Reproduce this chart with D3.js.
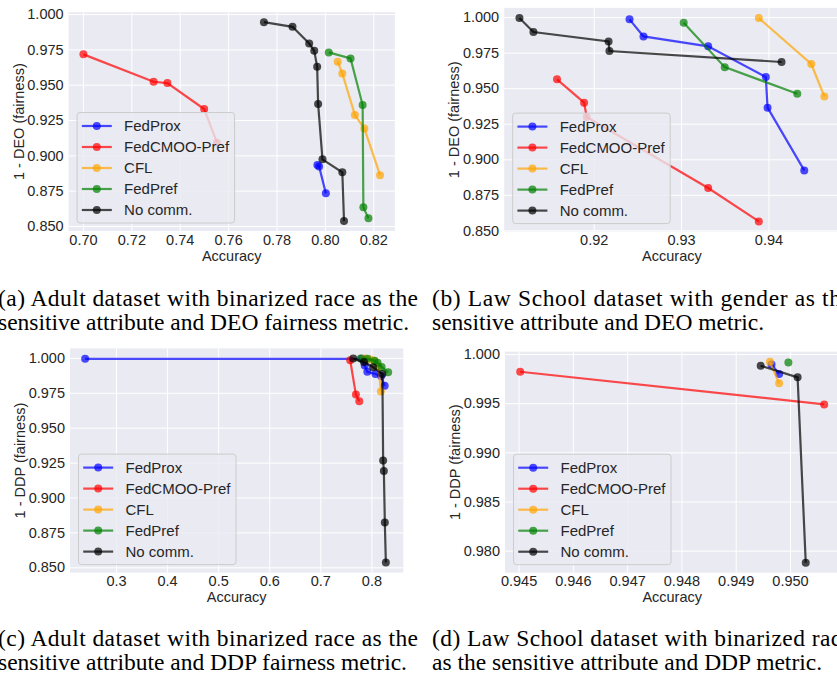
<!DOCTYPE html>
<html>
<head>
<meta charset="utf-8">
<script src="https://cdn.jsdelivr.net/npm/d3@7"></script>
<style>
  body { margin: 0; background: #fff; }
  svg { display: block; }
  .axis text { font-family: "Liberation Sans", Arial, sans-serif; font-size: 14.5px; fill: #262626; }
  .axis line { stroke: #fff; stroke-width: 1; }
  .axis .domain { display: none; }
  .axis-title { font-family: "Liberation Sans", Arial, sans-serif; font-size: 14.5px; fill: #262626; }
  .legend text { font-family: "Liberation Sans", Arial, sans-serif; font-size: 15px; fill: #262626; }
  .caption { font-family: "Liberation Serif", "Times New Roman", serif; font-size: 23.5px; fill: #000; }
</style>
</head>
<body>
<svg id="fig" width="837" height="681"></svg>
<script>
// methods, in legend / drawing order
const methods = ["FedProx", "FedCMOO-Pref", "CFL", "FedPref", "No comm."]
const methodColors = ["blue", "red", "orange", "green", "black"]

// points are [accuracy, 1 - fairness gap]
// (a) Adult, binarized race, DEO
const adultDeoFedProx = [[0.7969, 0.8932], [0.7976, 0.8922], [0.8004, 0.8731]]
const adultDeoFedCmoo = [[0.7002, 0.9715], [0.7292, 0.9521], [0.7349, 0.9512], [0.7501, 0.9328], [0.7554, 0.9090]]
const adultDeoCfl = [[0.8053, 0.9662], [0.8072, 0.9580], [0.8124, 0.9285], [0.8163, 0.9190], [0.8228, 0.8860]]
const adultDeoFedPref = [[0.8016, 0.9729], [0.8106, 0.9686], [0.8156, 0.9356], [0.8159, 0.8632], [0.8180, 0.8554]]
const adultDeoNoComm = [[0.7748, 0.9943], [0.7866, 0.9910], [0.7935, 0.9792], [0.7956, 0.9740], [0.7968, 0.9627],
  [0.7972, 0.9363], [0.7990, 0.8972], [0.8072, 0.8880], [0.8079, 0.8535]]

// (b) Law School, gender, DEO
const lawDeoFedProx = [[0.9241, 0.9984], [0.9257, 0.9864], [0.9331, 0.9794], [0.9397, 0.9578], [0.9399, 0.9363], [0.9441, 0.8922]]
const lawDeoFedCmoo = [[0.9158, 0.9562], [0.9189, 0.9398], [0.9192, 0.9297], [0.9331, 0.8798], [0.9389, 0.8563]]
const lawDeoCfl = [[0.9389, 0.9993], [0.9449, 0.9670], [0.9464, 0.9442]]
const lawDeoFedPref = [[0.9303, 0.9960], [0.9350, 0.9648], [0.9433, 0.9461]]
const lawDeoNoComm = [[0.9115, 0.9993], [0.9131, 0.9895], [0.9217, 0.9829], [0.9218, 0.9761], [0.9415, 0.9684]]

// (c) Adult, binarized race, DDP
const adultDdpFedProx = [[0.2396, 0.9993], [0.7810, 0.9993], [0.7870, 0.9945], [0.7920, 0.9900], [0.8080, 0.9885], [0.8190, 0.9870], [0.8260, 0.9800]]
const adultDdpFedCmoo = [[0.7585, 0.9983], [0.7697, 0.9737], [0.7763, 0.9689]]
const adultDdpCfl = [[0.7860, 0.9995], [0.7970, 0.9990], [0.8060, 0.9980], [0.8140, 0.9940], [0.8185, 0.9760]]
const adultDdpFedPref = [[0.7790, 0.9995], [0.7920, 0.9993], [0.8060, 0.9980], [0.8120, 0.9965], [0.8200, 0.9935], [0.8328, 0.9897]]
const adultDdpNoComm = [[0.7645, 0.9995], [0.7855, 0.9970], [0.8035, 0.9933], [0.8215, 0.9885], [0.8230, 0.9265],
  [0.8244, 0.9190], [0.8263, 0.8820], [0.8283, 0.8535]]

// (d) Law School, binarized race, DDP
const lawDdpFedProx = [[0.94966, 0.99895], [0.94980, 0.99798]]
const lawDdpFedCmoo = [[0.94503, 0.99820], [0.95063, 0.99488]]
const lawDdpCfl = [[0.94963, 0.99922], [0.94980, 0.99702]]
const lawDdpFedPref = [[0.94997, 0.99915]]
const lawDdpNoComm = [[0.94946, 0.99881], [0.95014, 0.99763], [0.95029, 0.97878]]

// tick values
const adultDeoTicksX = [0.70, 0.72, 0.74, 0.76, 0.78, 0.80, 0.82]
const lawDeoTicksX = [0.92, 0.93, 0.94]
const adultDdpTicksX = [0.3, 0.4, 0.5, 0.6, 0.7, 0.8]
const lawDdpTicksX = [0.945, 0.946, 0.947, 0.948, 0.949, 0.950]
const fairTicksY = [0.850, 0.875, 0.900, 0.925, 0.950, 0.975, 1.000]
const lawDdpTicksY = [0.980, 0.985, 0.990, 0.995, 1.000]

// captions
const captionA = ["(a) Adult dataset with binarized race as the", "sensitive attribute and DEO fairness metric."]
const captionB = ["(b) Law School dataset with gender as the", "sensitive attribute and DEO metric."]
const captionC = ["(c) Adult dataset with binarized race as the", "sensitive attribute and DDP fairness metric."]
const captionD = ["(d) Law School dataset with binarized race", "as the sensitive attribute and DDP metric."]

const panels = [
  { series: [adultDeoFedProx, adultDeoFedCmoo, adultDeoCfl, adultDeoFedPref, adultDeoNoComm],
    xTicks: adultDeoTicksX, xFmt: ".2f", yTicks: fairTicksY, yFmt: ".3f", yTitle: "1 - DEO (fairness)",
    frame: { left: 68.6, right: 394.9, top: 12.2, bottom: 231 } },
  { series: [lawDeoFedProx, lawDeoFedCmoo, lawDeoCfl, lawDeoFedPref, lawDeoNoComm],
    xTicks: lawDeoTicksX, xFmt: ".2f", yTicks: fairTicksY, yFmt: ".3f", yTitle: "1 - DEO (fairness)",
    frame: { left: 504.2, right: 839.6, top: 7.9, bottom: 231.6 } },
  { series: [adultDdpFedProx, adultDdpFedCmoo, adultDdpCfl, adultDdpFedPref, adultDdpNoComm],
    xTicks: adultDdpTicksX, xFmt: ".1f", yTicks: fairTicksY, yFmt: ".3f", yTitle: "1 - DDP (fairness)",
    frame: { left: 70, right: 403.3, top: 348.4, bottom: 572.6 } },
  { series: [lawDdpFedProx, lawDdpFedCmoo, lawDdpCfl, lawDdpFedPref, lawDdpNoComm],
    xTicks: lawDdpTicksX, xFmt: ".3f", yTicks: lawDdpTicksY, yFmt: ".3f", yTitle: "1 - DDP (fairness)",
    frame: { left: 505, right: 839.4, top: 351.7, bottom: 572.7 } }
]

const svg = d3.select("#fig")

function drawPanel(p) {
  const f = p.frame
  const all = p.series.flat()
  const xExt = d3.extent(all, d => d[0])
  const yExt = d3.extent(all, d => d[1])
  // matplotlib style 5% margins
  const xPad = (xExt[1] - xExt[0]) * 0.05
  const yPad = (yExt[1] - yExt[0]) * 0.05

  const xScale = d3.scaleLinear().domain([xExt[0] - xPad, xExt[1] + xPad]).range([f.left, f.right])
  const yScale = d3.scaleLinear().domain([yExt[0] - yPad, yExt[1] + yPad]).range([f.bottom, f.top])

  const g = svg.append("g")

  g.append("rect")
    .attr("x", f.left).attr("y", f.top)
    .attr("width", f.right - f.left).attr("height", f.bottom - f.top)
    .attr("fill", "#EAEAF2")

  g.append("g")
    .attr("class", "axis")
    .attr("transform", `translate(0,${f.bottom})`)
    .call(d3.axisBottom(xScale).tickValues(p.xTicks).tickFormat(d3.format(p.xFmt))
      .tickSize(-(f.bottom - f.top)).tickPadding(3.5))

  g.append("g")
    .attr("class", "axis")
    .attr("transform", `translate(${f.left},0)`)
    .call(d3.axisLeft(yScale).tickValues(p.yTicks).tickFormat(d3.format(p.yFmt))
      .tickSize(-(f.right - f.left)).tickPadding(5))

  g.append("text")
    .attr("class", "axis-title")
    .attr("x", (f.left + f.right) / 2)
    .attr("y", f.bottom + 29.5)
    .attr("text-anchor", "middle")
    .text("Accuracy")

  g.append("text")
    .attr("class", "axis-title")
    .attr("transform", `translate(${f.left - 45},${(f.top + f.bottom) / 2}) rotate(-90)`)
    .attr("text-anchor", "middle")
    .text(p.yTitle)

  const line = d3.line().x(d => xScale(d[0])).y(d => yScale(d[1]))

  p.series.forEach((pts, i) => {
    const sg = g.append("g")
    sg.append("path")
      .attr("d", line(pts))
      .attr("fill", "none")
      .attr("stroke", methodColors[i])
      .attr("stroke-opacity", 0.7)
      .attr("stroke-width", 2.2)
    sg.selectAll("circle")
      .data(pts)
      .join("circle")
      .attr("cx", d => xScale(d[0]))
      .attr("cy", d => yScale(d[1]))
      .attr("r", 4)
      .attr("fill", methodColors[i])
      .attr("fill-opacity", 0.7)
  })

  // legend, lower left
  const lw = 157.5, lh = 110.5
  const legend = g.append("g")
    .attr("class", "legend")
    .attr("transform", `translate(${f.left + 8.5},${f.bottom - 8 - lh})`)
  legend.append("rect")
    .attr("width", lw).attr("height", lh).attr("rx", 3)
    .attr("fill", "#EAEAF2").attr("fill-opacity", 0.8)
    .attr("stroke", "#CCCCCC").attr("stroke-width", 1)
  methods.forEach((m, i) => {
    const row = legend.append("g").attr("transform", `translate(0,${13.5 + i * 21})`)
    row.append("line")
      .attr("x1", 4.7).attr("x2", 34.7)
      .attr("stroke", methodColors[i]).attr("stroke-opacity", 0.7).attr("stroke-width", 2.2)
    row.append("circle")
      .attr("cx", 19.7).attr("r", 4)
      .attr("fill", methodColors[i]).attr("fill-opacity", 0.7)
    row.append("text")
      .attr("x", 47).attr("dy", "0.35em")
      .text(m)
  })
}

panels.forEach(drawPanel)

function drawCaption(lines, x, y) {
  svg.append("text")
    .attr("class", "caption")
    .attr("x", x).attr("y", y)
    .attr("textLength", 420).attr("lengthAdjust", "spacing")
    .text(lines[0])
  svg.append("text")
    .attr("class", "caption")
    .attr("x", x).attr("y", y + 24)
    .text(lines[1])
}

drawCaption(captionA, -2, 306)
drawCaption(captionB, 432, 306)
drawCaption(captionC, -2, 646)
drawCaption(captionD, 432, 646)
</script>
</body>
</html>
